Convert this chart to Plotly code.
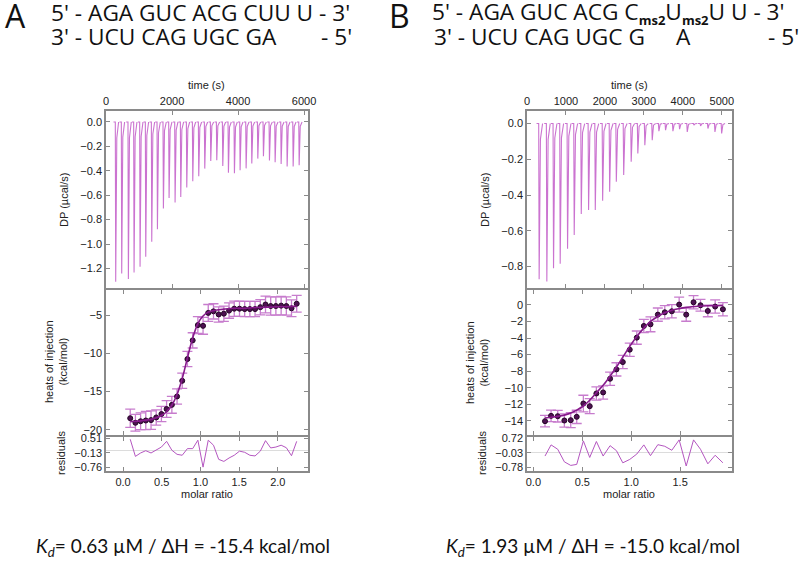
import plotly.graph_objects as go

# ---------------- Panel A data ----------------
a_inj_time = [282, 464, 666, 838, 1020, 1192, 1374, 1546, 1727, 1899, 2081, 2253, 2435, 2617,
              2798, 2980, 3162, 3344, 3526, 3697, 3879, 4051, 4233, 4405, 4587, 4758, 4940,
              5112, 5294, 5476, 5658, 5840]
a_inj_peak = [-1.309, -1.241, -1.287, -1.233, -1.186, -1.104, -0.982, -0.878, -0.709, -0.622,
              -0.660, -0.614, -0.537, -0.485, -0.445, -0.382, -0.320, -0.314, -0.360, -0.415,
              -0.420, -0.395, -0.380, -0.340, -0.300, -0.280, -0.315, -0.330, -0.345, -0.365,
              -0.365, -0.355]
a_ratio = [0.093, 0.160, 0.227, 0.294, 0.362, 0.429, 0.496, 0.563, 0.631, 0.698, 0.765, 0.832,
           0.900, 0.967, 1.034, 1.101, 1.169, 1.236, 1.303, 1.370, 1.437, 1.505, 1.572, 1.639,
           1.706, 1.774, 1.841, 1.908, 1.975, 2.043, 2.110, 2.177, 2.244]
a_heat = [-18.5, -19.1, -18.9, -18.8, -18.75, -18.4, -17.95, -17.3, -16.75, -15.65, -13.6,
          -10.75, -8.3, -6.3, -6.4, -4.7, -4.5, -4.9, -4.8, -4.4, -4.15, -4.15, -4.2, -4.2,
          -4.2, -3.95, -3.6, -3.8, -3.8, -3.75, -3.8, -4.1, -3.5]
a_err = [1.2, 1.1, 1.1, 1.2, 1.2, 1.0, 1.0, 1.1, 1.1, 1.0, 1.0, 1.0, 1.0, 1.1, 1.1, 1.1, 1.0,
         1.0, 1.0, 1.0, 1.0, 1.0, 1.0, 1.0, 1.0, 1.0, 1.1, 1.2, 1.2, 1.2, 1.2, 1.1, 1.1]
a_fit = [-18.95, -18.9, -18.85, -18.75, -18.65, -18.45, -18.15, -17.65, -16.8, -15.4, -13.3,
         -10.6, -8.0, -6.1, -5.1, -4.6, -4.4, -4.3, -4.2, -4.15, -4.1, -4.1, -4.1, -4.05,
         -4.0, -4.0, -3.95, -3.95, -3.9, -3.9, -3.9, -3.85, -3.85]
a_resid = [0.47, -0.28, -0.13, -0.03, -0.13, 0.0, 0.13, 0.38, -0.01, -0.19, -0.23, 0.06, 0.06,
           0.43, -0.75, 0.43, 0.21, -0.41, -0.5, -0.35, -0.23, -0.05, -0.1, -0.23, -0.26,
           -0.05, 0.41, 0.09, 0.13, 0.21, 0.1, -0.25, 0.38]
a_resid_ticks = [0.51, -0.13, -0.76]

# ---------------- Panel B data ----------------
b_inj_time = [300, 497, 669, 840, 1029, 1200, 1381, 1569, 1741, 1930, 2110, 2281, 2470, 2663,
              2833, 3013, 3203, 3374, 3545, 3734, 3905, 4102, 4273, 4444, 4633, 4813, 4985]
b_inj_peak = [-0.871, -0.884, -0.809, -0.785, -0.701, -0.623, -0.506, -0.484, -0.484, -0.432,
              -0.381, -0.326, -0.288, -0.214, -0.167, -0.121, -0.093, -0.043, -0.037, -0.043,
              -0.032, -0.047, -0.009, -0.013, -0.028, -0.047, -0.056]
b_ratio = [0.119, 0.181, 0.249, 0.317, 0.382, 0.443, 0.511, 0.576, 0.644, 0.713, 0.784, 0.849,
           0.914, 0.985, 1.057, 1.129, 1.197, 1.272, 1.343, 1.415, 1.490, 1.562, 1.637, 1.708,
           1.783, 1.858, 1.937]
b_heat = [-14.03, -13.39, -13.43, -13.95, -13.91, -13.51, -11.9, -12.22, -10.69, -10.56, -8.91,
          -7.78, -6.9, -5.4, -3.95, -2.54, -2.34, -1.17, -0.89, -0.77, 0.04, -1.17, 0.32, -0.04,
          -0.73, -0.2, -0.52]
b_err = [0.7, 0.7, 0.7, 0.8, 0.9, 0.8, 1.0, 0.9, 0.8, 0.8, 0.8, 0.8, 0.8, 0.8, 0.8, 0.8, 0.9,
         0.8, 0.8, 0.8, 0.9, 0.8, 0.8, 0.7, 0.7, 0.8, 0.8]
b_fit = [-13.65, -13.55, -13.45, -13.3, -13.05, -12.7, -12.2, -11.5, -10.6, -9.7, -8.6, -7.5,
         -6.3, -5.0, -3.8, -2.8, -2.0, -1.4, -0.95, -0.65, -0.45, -0.3, -0.2, -0.15, -0.1,
         -0.08, -0.06]
b_resid = [-0.2, 0.36, 0.14, -0.49, -0.67, -0.62, 0.56, -0.27, 0.53, -0.2, 0.32, 0.07, -0.54,
           -0.37, -0.1, 0.36, -0.18, 0.37, 0.29, 0.09, 0.61, -0.7, 0.61, 0.14, -0.59, -0.16,
           -0.54]
b_resid_ticks = [0.72, -0.03, -0.78]

# ---------------- styling ----------------
SPIKE = "rgba(190, 80, 196, 0.8)"
ERR = "#c77ccd"
MARK = "#4e1152"
FIT = "#861a8b"
RES = "#b456c0"
AX = "#8a8a8a"
TICKFONT = dict(family="Liberation Sans, Arial", size=11, color="#222222")


def spike_trace(times, peaks, xa, ya):
    xs, ys = [], []
    for t, p in zip(times, peaks):
        xs += [t - 55, t, t + 12, t + 45, t + 100, None]
        ys += [0, 0, p, p * 0.1, 0, None]
    return go.Scatter(x=xs, y=ys, mode="lines", line=dict(color=SPIKE, width=1.1),
                      xaxis=xa, yaxis=ya, hoverinfo="skip")


fig = go.Figure()
fig.add_trace(spike_trace(a_inj_time, a_inj_peak, "x", "y"))
fig.add_trace(go.Scatter(x=a_ratio, y=a_heat, mode="markers", xaxis="x2", yaxis="y2",
                         error_y=dict(type="data", array=a_err, color=ERR, thickness=1.3, width=5),
                         marker=dict(color=MARK, size=5, line=dict(color="#250526", width=1))))
fig.add_trace(go.Scatter(x=a_ratio, y=a_fit, mode="lines", line=dict(color=FIT, width=1.6, shape="spline"),
                         xaxis="x2", yaxis="y2"))
fig.add_trace(go.Scatter(x=a_ratio, y=a_resid, mode="lines", line=dict(color=RES, width=1),
                         xaxis="x3", yaxis="y3"))

fig.add_trace(spike_trace(b_inj_time, b_inj_peak, "x4", "y4"))
fig.add_trace(go.Scatter(x=b_ratio, y=b_heat, mode="markers", xaxis="x5", yaxis="y5",
                         error_y=dict(type="data", array=b_err, color=ERR, thickness=1.3, width=5),
                         marker=dict(color=MARK, size=5, line=dict(color="#250526", width=1))))
fig.add_trace(go.Scatter(x=b_ratio, y=b_fit, mode="lines", line=dict(color=FIT, width=1.6, shape="spline"),
                         xaxis="x5", yaxis="y5"))
fig.add_trace(go.Scatter(x=b_ratio, y=b_resid, mode="lines", line=dict(color=RES, width=1),
                         xaxis="x6", yaxis="y6"))

W, H = 800, 563
AXL, AXR = 106 / W, 308 / W
BXL, BXR = 527 / W, 732 / W
TOP = [1 - 288 / H, 1 - 111 / H]
MID = [1 - 435 / H, 1 - 290 / H]
RESD = [1 - 471 / H, 1 - 437 / H]


def ax(**kw):
    base = dict(showline=True, linecolor=AX, linewidth=1.5, mirror="ticks", ticks="inside",
                ticklen=4, tickcolor=AX, tickwidth=1, showgrid=False, zeroline=False,
                tickfont=TICKFONT, fixedrange=True, automargin=False)
    base.update(kw)
    return base


fig.update_layout(
    width=W, height=H, margin=dict(l=0, r=0, t=0, b=0, autoexpand=False), showlegend=False,
    plot_bgcolor="white", paper_bgcolor="white",
    xaxis=ax(domain=[AXL, AXR], anchor="y", side="top", range=[0, 6120],
             tickvals=[0, 2000, 4000, 6000]),
    yaxis=ax(domain=TOP, anchor="x", range=[-1.36, 0.09], dtick=0.2, tickformat=".1f"),
    xaxis2=ax(domain=[AXL, AXR], anchor="y2", range=[-0.22, 2.39],
              tickvals=[0, 0.5, 1, 1.5, 2], showticklabels=False),
    yaxis2=ax(domain=MID, anchor="x2", range=[-20.7, -1.7], tickvals=[-20, -15, -10, -5]),
    xaxis3=ax(domain=[AXL, AXR], anchor="y3", range=[-0.22, 2.39],
              tickvals=[0, 0.5, 1, 1.5, 2], tickformat=".1f"),
    yaxis3=ax(domain=RESD, anchor="x3", range=[-0.92, 0.57], tickvals=a_resid_ticks,
              tickformat=".2f", zeroline=True, zerolinecolor="#dcdcdc", zerolinewidth=1),
    xaxis4=ax(domain=[BXL, BXR], anchor="y4", side="top", range=[0, 5263],
              tickvals=[0, 1000, 2000, 3000, 4000, 5000]),
    yaxis4=ax(domain=TOP, anchor="x4", range=[-0.92, 0.07], tickvals=[-0.8, -0.6, -0.4, -0.2, 0.0],
              tickformat=".1f"),
    xaxis5=ax(domain=[BXL, BXR], anchor="y5", range=[-0.065, 2.03],
              tickvals=[0, 0.5, 1, 1.5], showticklabels=False),
    yaxis5=ax(domain=MID, anchor="x5", range=[-15.7, 1.8], tickvals=[-14, -12, -10, -8, -6, -4, -2, 0]),
    xaxis6=ax(domain=[BXL, BXR], anchor="y6", range=[-0.065, 2.03],
              tickvals=[0, 0.5, 1, 1.5], tickformat=".1f"),
    yaxis6=ax(domain=RESD, anchor="x6", range=[-0.95, 0.755], tickvals=b_resid_ticks,
              tickformat=".2f", zeroline=True, zerolinecolor="#dcdcdc", zerolinewidth=1),
)

LABF = dict(family="Liberation Sans, Arial", size=11, color="#222222")
SEQF = dict(family="Open Sans, Lato", size=22.7, color="#111111")


def ann(x, y, text, font, xanchor="center", yanchor="middle", angle=0):
    fig.add_annotation(x=x / W, y=1 - y / H, xref="paper", yref="paper", text=text, showarrow=False,
                       font=font, xanchor=xanchor, yanchor=yanchor, textangle=angle)


for left, mid_t in [(106, 207), (527, 629)]:
    ann(mid_t, 85, "time (s)", LABF)
    ann(left - 42, 200, "DP (µcal/s)", LABF, angle=-90)
    ann(left - 50, 362, "heats of injection<br>(kcal/mol)", LABF, angle=-90)
    ann(left - 45, 453, "residuals", LABF, angle=-90)
    ann(mid_t, 494, "molar ratio", LABF)

SUB = '<sub><b><span style="font-size:13px">ms2</span></b></sub>'

# headers
ann(3, 16, "A", dict(family="Open Sans, Lato", size=32, color="#111111"), xanchor="left")
ann(387, 16, "B", dict(family="Open Sans, Lato", size=32, color="#111111"), xanchor="left")
ann(49, 13, "5' - AGA GUC ACG CUU U - 3'", SEQF, xanchor="left")
ann(49, 36, "3' - UCU CAG UGC GA", SEQF, xanchor="left")
ann(354, 36, "- 5'", SEQF, xanchor="right")
ann(430, 13, "5' - AGA GUC ACG C" + SUB + "U" + SUB + "U U - 3'", SEQF, xanchor="left")
ann(432, 36, "3' - UCU CAG UGC G", SEQF, xanchor="left")
ann(674, 36, "A", SEQF, xanchor="left")
ann(801, 36, "- 5'", SEQF, xanchor="right")

BOTF = dict(family="Lato, Open Sans", size=19, color="#111111")
ann(34, 547, "<i>K<sub>d</sub></i>= 0.63 µM / ΔH = -15.4 kcal/mol", BOTF, xanchor="left")
ann(444, 547, "<i>K<sub>d</sub></i>= 1.93 µM / ΔH = -15.0 kcal/mol", BOTF, xanchor="left")

fig.write_html("out.html", config={"displayModeBar": False},
               post_script="document.body.style.margin='0';document.body.style.overflow='hidden';")
